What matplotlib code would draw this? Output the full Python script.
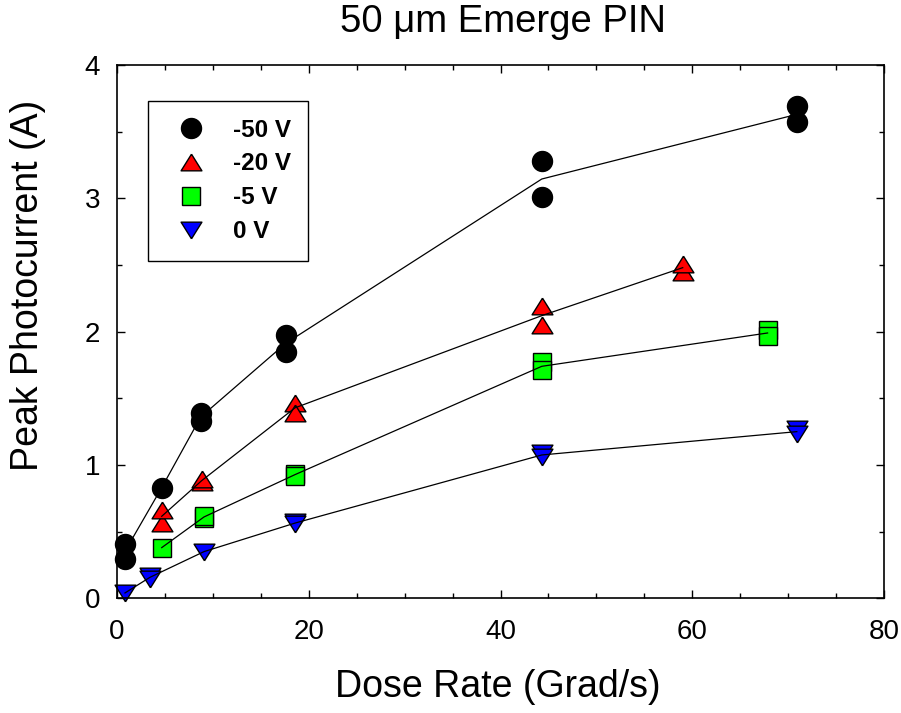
import numpy as np
import matplotlib
matplotlib.use("Agg")
import matplotlib.pyplot as plt
from matplotlib.ticker import MultipleLocator

plt.rcParams['font.family'] = ['Liberation Sans', 'DejaVu Sans']

# ---- data ----
x_50 = [0.83, 0.83, 4.66, 8.73, 8.73, 17.6, 17.6, 44.3, 44.3, 70.9, 70.9]
y_50 = [0.41, 0.295, 0.83, 1.39, 1.33, 1.975, 1.85, 3.28, 3.01, 3.69, 3.57]

x_20 = [4.66, 4.66, 8.83, 8.83, 18.56, 18.56, 44.3, 44.3, 59.0, 59.0]
y_20 = [0.565, 0.665, 0.87, 0.895, 1.467, 1.39, 2.05, 2.19, 2.45, 2.51]

x_5 = [4.66, 9.07, 9.07, 18.56, 18.56, 44.3, 44.3, 67.85, 67.85]
y_5 = [0.38, 0.60, 0.62, 0.935, 0.92, 1.77, 1.71, 2.01, 1.97]

x_0 = [0.83, 3.44, 3.44, 9.07, 18.56, 18.56, 44.3, 44.3, 70.9, 70.9]
y_0 = [0.04, 0.17, 0.145, 0.35, 0.573, 0.555, 1.09, 1.06, 1.27, 1.23]

labels = ['-50 V', '-20 V', '-5 V', '0 V']
colors = ['black', 'red', '#00ff00', 'blue']

x_ticks = [0, 20, 40, 60, 80]
y_ticks = [0, 1, 2, 3, 4]

# flattened triangles (width : height about 5 : 4), like the reference glyphs
tri_up = [(0, 0.8), (-1, -0.8), (1, -0.8), (0, 0.8)]
tri_dn = [(0, -0.8), (-1, 0.8), (1, 0.8), (0, -0.8)]
markers = ['o', tri_up, 's', tri_dn]
sizes = [14.4, 15.0, 12.6, 15.0]

series = [(x_50, y_50), (x_20, y_20), (x_5, y_5), (x_0, y_0)]

fig = plt.figure(figsize=(9.01, 7.13), dpi=100)
ax = fig.add_axes([0.1299, 0.1609, 0.8513, 0.7479])

handles = []
for (xs, ys), lab, c, m, s in zip(series, labels, colors, markers, sizes):
    xs = np.asarray(xs); ys = np.asarray(ys)
    h, = ax.plot(xs, ys, linestyle='none', marker=m, markersize=s,
                 markerfacecolor=c, markeredgecolor='black',
                 markeredgewidth=1.0, label=lab, zorder=2, clip_on=False)
    handles.append(h)
    ux = np.unique(xs)
    my = np.array([ys[xs == u].mean() for u in ux])
    ax.plot(ux, my, color='black', linewidth=0.9, zorder=3)

ax.set_xlim(0, 80)
ax.set_ylim(0, 4)
ax.set_xticks(x_ticks)
ax.set_yticks(y_ticks)
ax.xaxis.set_minor_locator(MultipleLocator(5))
ax.yaxis.set_minor_locator(MultipleLocator(0.5))
ax.tick_params(which='both', direction='in', top=True, right=True,
               labelsize=20, width=1.0, color='black')
ax.tick_params(which='major', length=6, pad=12)
ax.tick_params(axis='x', which='major', pad=15)
ax.tick_params(which='minor', length=3.8)
for sp in ax.spines.values():
    sp.set_linewidth(1.2)

ax.set_xlabel('Dose Rate (Grad/s)', fontsize=27)
ax.xaxis.set_label_coords(0.497, -0.185)
ax.xaxis.label.set_verticalalignment('baseline')

ax.set_ylabel('Peak Photocurrent (A)', fontsize=27)
ax.yaxis.set_label_coords(-0.103, 0.5875)
ax.yaxis.label.set_verticalalignment('baseline')

ax.text(0.503, 1.062, '50 \u03bcm Emerge PIN', transform=ax.transAxes,
        fontsize=27.5, ha='center', va='baseline')

leg = ax.legend(handles=handles, loc='upper left',
                bbox_to_anchor=(0.0404, 0.9325), borderaxespad=0,
                frameon=True, fancybox=False, framealpha=1,
                edgecolor='black', prop={'weight': 'bold', 'size': 17.5},
                handlelength=2.06, handletextpad=0.7, borderpad=0.72,
                labelspacing=0.45)
leg.get_frame().set_linewidth(1.0)

fig.savefig('out.png', dpi=100)
